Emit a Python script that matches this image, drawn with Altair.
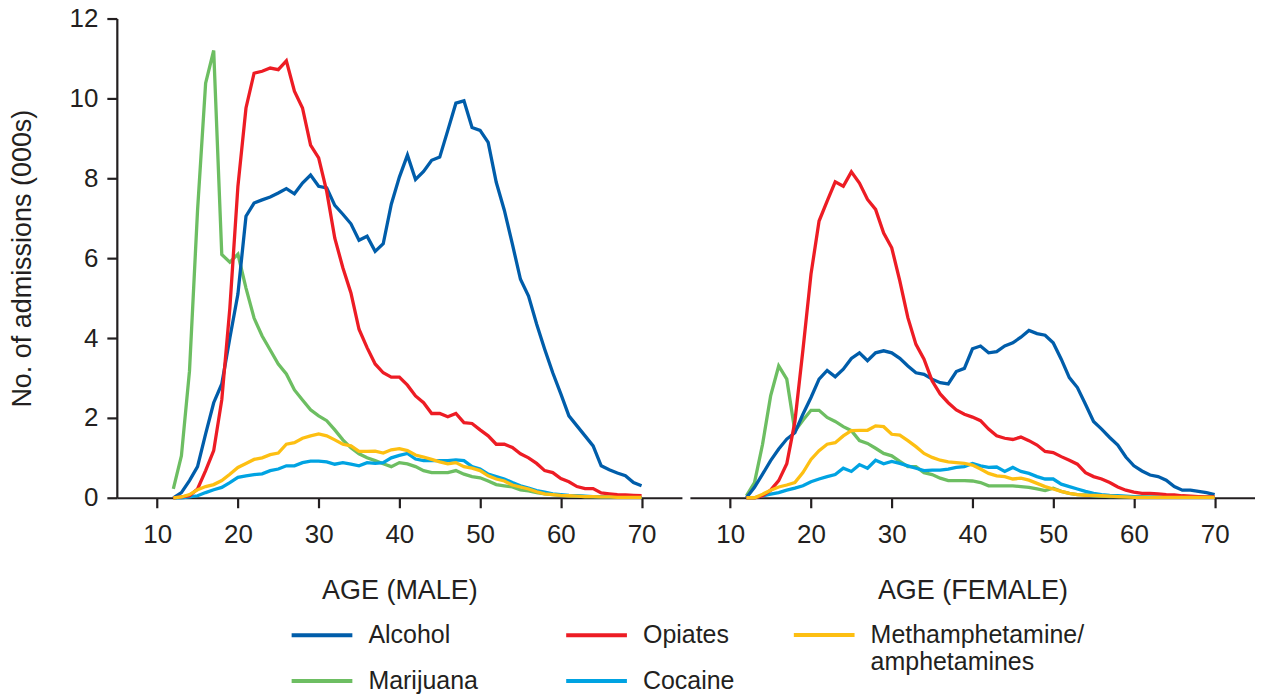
import altair as alt
import pandas as pd

FONT = "Liberation Sans"
INK = "#231F20"

ages = list(range(12, 71))
main_drugs = ["Alcohol", "Opiates", "Marijuana", "Cocaine"]
main_colors = ["#005DAA", "#ED1C24", "#6DBE62", "#00A3E2"]
meth_name = "Methamphetamine/amphetamines"
meth_color = "#FDBF12"
x_ticks = [10, 20, 30, 40, 50, 60, 70]
y_ticks = [0, 2, 4, 6, 8, 10, 12]

# ---- Male (ages 12..70), thousands of admissions ----
male_alcohol = [0.0, 0.13, 0.43, 0.78, 1.6, 2.38, 2.85, 4.0, 5.1, 7.05, 7.38, 7.46, 7.53, 7.63, 7.74, 7.61, 7.88, 8.08,
                7.8, 7.76, 7.32, 7.1, 6.86, 6.45, 6.55, 6.17, 6.36, 7.35, 8.03, 8.58, 7.97, 8.17, 8.45, 8.53, 9.2, 9.88,
                9.94, 9.27, 9.2, 8.9, 7.9, 7.2, 6.35, 5.47, 5.05, 4.35, 3.72, 3.13, 2.6, 2.05, 1.8, 1.55, 1.3, 0.8, 0.7,
                0.62, 0.55, 0.38, 0.3]
male_opiates = [0.0, 0.02, 0.05, 0.22, 0.68, 1.18, 2.45, 4.75, 7.8, 9.76, 10.63, 10.68, 10.76, 10.72, 10.94, 10.18, 9.76,
                8.83, 8.51, 7.67, 6.5, 5.76, 5.13, 4.22, 3.76, 3.35, 3.13, 3.02, 3.02, 2.82, 2.55, 2.38, 2.11, 2.11, 2.03,
                2.11, 1.88, 1.86, 1.7, 1.55, 1.34, 1.34, 1.26, 1.1, 1.0, 0.86, 0.68, 0.63, 0.48, 0.4, 0.28, 0.23, 0.23,
                0.12, 0.1, 0.08, 0.07, 0.06, 0.05]
male_meth = [0.0, 0.02, 0.08, 0.2, 0.28, 0.33, 0.43, 0.59, 0.76, 0.86, 0.96, 1.0, 1.08, 1.12, 1.34, 1.38, 1.49, 1.55, 1.6,
             1.55, 1.45, 1.34, 1.3, 1.16, 1.16, 1.17, 1.12, 1.2, 1.23, 1.18, 1.07, 1.02, 0.96, 0.9, 0.85, 0.88, 0.78,
             0.74, 0.68, 0.55, 0.47, 0.42, 0.32, 0.27, 0.22, 0.15, 0.1, 0.08, 0.06, 0.05, 0.04, 0.03, 0.03, 0.02, 0.02,
             0.01, 0.01, 0.01, 0.01]
male_marijuana = [0.22, 1.05, 3.17, 7.2, 10.38, 11.2, 6.09, 5.9, 6.1, 5.25, 4.5, 4.05, 3.7, 3.35, 3.1, 2.7, 2.45, 2.2,
                  2.05, 1.93, 1.7, 1.45, 1.25, 1.1, 1.0, 0.93, 0.85, 0.78, 0.88, 0.85, 0.78, 0.68, 0.63, 0.63, 0.63, 0.68,
                  0.59, 0.53, 0.5, 0.42, 0.33, 0.3, 0.27, 0.2, 0.17, 0.13, 0.1, 0.08, 0.06, 0.05, 0.04, 0.03, 0.03, 0.02,
                  0.02, 0.02, 0.01, 0.01, 0.01]
male_cocaine = [0.0, 0.0, 0.02, 0.05, 0.13, 0.2, 0.26, 0.38, 0.51, 0.55, 0.58, 0.6, 0.68, 0.72, 0.8, 0.8, 0.88, 0.92, 0.92,
                0.9, 0.84, 0.88, 0.84, 0.8, 0.88, 0.86, 0.88, 1.0, 1.06, 1.11, 0.97, 0.93, 0.93, 0.93, 0.93, 0.95, 0.93,
                0.78, 0.72, 0.59, 0.53, 0.47, 0.38, 0.3, 0.24, 0.18, 0.14, 0.1, 0.08, 0.06, 0.05, 0.04, 0.03, 0.03, 0.02,
                0.02, 0.02, 0.01, 0.01]

# ---- Female (ages 12..70) ----
female_alcohol = [0.0, 0.26, 0.59, 0.93, 1.22, 1.47, 1.63, 2.09, 2.51, 2.97, 3.19, 3.03, 3.22, 3.49, 3.63, 3.43, 3.63,
                  3.68, 3.63, 3.49, 3.3, 3.13, 3.09, 2.97, 2.88, 2.85, 3.16, 3.24, 3.73, 3.8, 3.63, 3.66, 3.8, 3.88, 4.02,
                  4.19, 4.11, 4.07, 3.88, 3.47, 3.01, 2.76, 2.34, 1.91, 1.72, 1.51, 1.32, 1.02, 0.8, 0.67, 0.57, 0.53,
                  0.44, 0.28, 0.19, 0.19, 0.16, 0.13, 0.08]
female_opiates = [0.0, 0.0, 0.05, 0.19, 0.43, 0.85, 1.9, 3.7, 5.6, 6.93, 7.43, 7.91, 7.8, 8.16, 7.88, 7.47, 7.22, 6.63,
                  6.26, 5.43, 4.51, 3.84, 3.47, 2.93, 2.6, 2.38, 2.2, 2.09, 2.02, 1.93, 1.72, 1.55, 1.49, 1.46, 1.52, 1.43,
                  1.32, 1.16, 1.13, 1.03, 0.94, 0.84, 0.63, 0.53, 0.47, 0.38, 0.27, 0.19, 0.14, 0.11, 0.11, 0.1, 0.08,
                  0.07, 0.05, 0.04, 0.03, 0.02, 0.02]
female_meth = [0.0, 0.0, 0.09, 0.19, 0.27, 0.32, 0.38, 0.63, 0.96, 1.18, 1.34, 1.38, 1.55, 1.68, 1.69, 1.69, 1.8, 1.78,
               1.59, 1.57, 1.43, 1.28, 1.11, 1.01, 0.94, 0.9, 0.88, 0.86, 0.82, 0.72, 0.61, 0.55, 0.53, 0.47, 0.49, 0.44,
               0.36, 0.28, 0.22, 0.16, 0.11, 0.08, 0.06, 0.06, 0.05, 0.04, 0.03, 0.02, 0.01, 0.01, 0.01, 0.01, 0.01,
               0.01, 0.01, 0.01, 0.01, 0.01, 0.01]
female_marijuana = [0.05, 0.38, 1.34, 2.55, 3.3, 2.97, 1.67, 1.94, 2.19, 2.19, 2.01, 1.91, 1.78, 1.68, 1.43, 1.36, 1.24,
                    1.11, 1.05, 0.91, 0.78, 0.78, 0.63, 0.58, 0.49, 0.43, 0.43, 0.43, 0.42, 0.38, 0.3, 0.3, 0.3, 0.3,
                    0.28, 0.26, 0.22, 0.18, 0.24, 0.16, 0.11, 0.08, 0.07, 0.05, 0.04, 0.03, 0.03, 0.02, 0.02, 0.02, 0.01,
                    0.01, 0.01, 0.01, 0.01, 0.01, 0.01, 0.01, 0.01]
female_cocaine = [0.0, 0.0, 0.05, 0.09, 0.13, 0.19, 0.24, 0.3, 0.4, 0.47, 0.53, 0.58, 0.74, 0.66, 0.83, 0.74, 0.94, 0.85,
                  0.91, 0.86, 0.8, 0.74, 0.68, 0.69, 0.69, 0.72, 0.76, 0.78, 0.86, 0.8, 0.76, 0.77, 0.66, 0.76, 0.66,
                  0.61, 0.53, 0.47, 0.47, 0.34, 0.28, 0.22, 0.16, 0.11, 0.08, 0.06, 0.05, 0.04, 0.03, 0.02, 0.02, 0.02,
                  0.01, 0.01, 0.01, 0.01, 0.01, 0.01, 0.01]

series = {
    "Male": [male_marijuana, male_cocaine, male_alcohol, male_opiates, male_meth],
    "Female": [female_marijuana, female_cocaine, female_alcohol, female_opiates, female_meth],
}
draw_order = ["Marijuana", "Cocaine", "Alcohol", "Opiates", meth_name]

rows = []
for sex, lists in series.items():
    for k, (name, vals) in enumerate(zip(draw_order, lists)):
        for a, v in zip(ages, vals):
            rows.append({"sex": sex, "drug": name, "z": k, "age": a, "value": v})
df = pd.DataFrame(rows)

legend_common = dict(
    title=None, orient="none", symbolType="stroke", symbolSize=3700, symbolStrokeWidth=4,
    labelFont=FONT, labelFontSize=25, labelColor=INK, labelOffset=14, labelLimit=400,
)
legend_main = alt.Legend(legendX=173, legendY=585, columns=2, direction="horizontal",
                         columnPadding=80, rowPadding=-18, **legend_common)
legend_meth = alt.Legend(legendX=676, legendY=585,
                         labelExpr="['Methamphetamine/', 'amphetamines']", **legend_common)


def panel(sex, title, show_y):
    yaxis = alt.Axis(values=y_ticks, title="No. of admissions (000s)", titlePadding=33, labelPadding=9) if show_y else None
    x = alt.X("age:Q", scale=alt.Scale(domain=[5, 75], nice=False, zero=False),
              axis=alt.Axis(values=x_ticks, title=title, labelPadding=14, titlePadding=30))
    y = alt.Y("value:Q", scale=alt.Scale(domain=[0, 12], nice=False), axis=yaxis)
    base = alt.Chart(df).transform_filter(alt.datum.sex == sex)
    main = base.transform_filter(alt.FieldOneOfPredicate(field="drug", oneOf=main_drugs)).mark_line(
        strokeWidth=3.3).encode(
        x=x, y=y,
        color=alt.Color("drug:N", scale=alt.Scale(domain=main_drugs, range=main_colors), legend=legend_main),
        detail="z:O",
    )
    meth = base.transform_filter(alt.datum.drug == meth_name).mark_line(strokeWidth=3.3).encode(
        x=x, y=y,
        stroke=alt.Stroke("drug:N", scale=alt.Scale(domain=[meth_name], range=[meth_color]), legend=legend_meth),
    )
    return alt.layer(main, meth).properties(width=566, height=480)


chart = alt.hconcat(
    panel("Male", "AGE (MALE)", True),
    panel("Female", "AGE (FEMALE)", False),
    spacing=8,
).resolve_scale(color="shared", stroke="shared").properties(
    padding={"left": 0, "top": -3, "right": 0, "bottom": 0}
).configure_view(stroke=None).configure_axis(
    grid=False, domainColor=INK, tickColor=INK, domainWidth=2.2, tickWidth=2.2, tickSize=10,
    labelFont=FONT, labelFontSize=26, labelColor=INK,
    titleFont=FONT, titleFontSize=27, titleFontWeight="normal", titleColor=INK,
)

chart.save("out.html", embed_options={"renderer": "svg", "actions": False})
